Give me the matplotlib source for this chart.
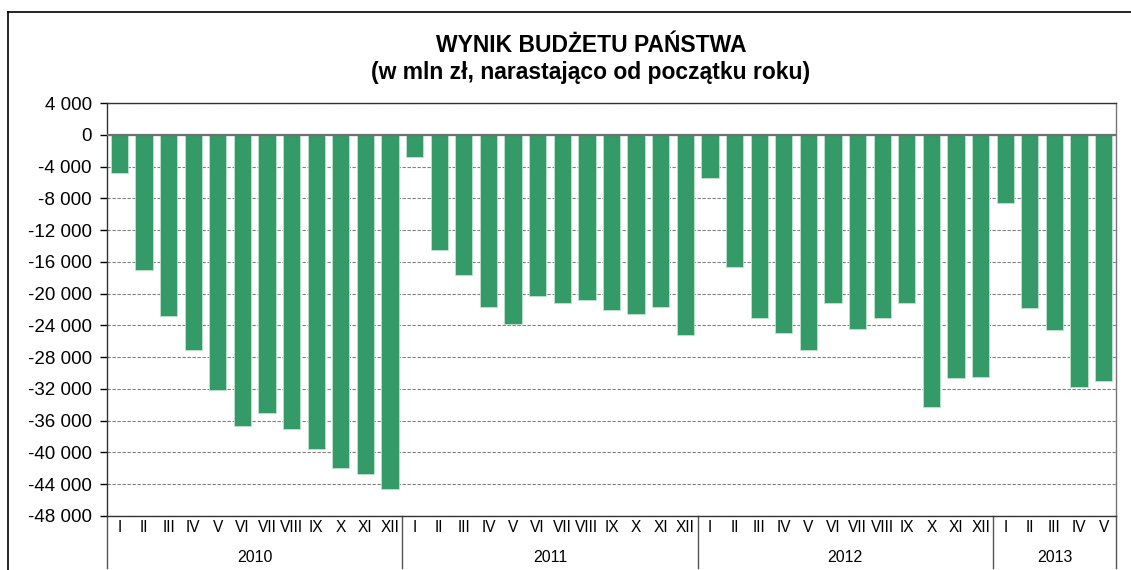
import matplotlib
matplotlib.use("Agg")
import matplotlib.pyplot as plt
from matplotlib.lines import Line2D
from matplotlib.ticker import FuncFormatter

plt.rcParams["font.family"] = ["Liberation Sans", "DejaVu Sans"]

# dane (mln zł, narastająco)
years = ["2010", "2011", "2012", "2013"]
months = ["I", "II", "III", "IV", "V", "VI", "VII", "VIII", "IX", "X", "XI", "XII"]
v2010 = [-4850, -17000, -22800, -27100, -32100, -36700, -35000, -37100, -39600, -42000, -42700, -44650]
v2011 = [-2850, -14550, -17600, -21700, -23850, -20350, -21200, -20800, -22000, -22600, -21700, -25200]
v2012 = [-5400, -16650, -23100, -24950, -27100, -21150, -24450, -23050, -21200, -34300, -30600, -30500]
v2013 = [-8550, -21800, -24550, -31800, -31050]

series = [v2010, v2011, v2012, v2013]
values = [v for s in series for v in s]
labels = [months[i] for s in series for i in range(len(s))]
x = list(range(len(values)))

W, H = 1131, 570
fig = plt.figure(figsize=(W / 100, H / 100), dpi=100)
ax = fig.add_axes([107 / W, 1 - 516 / H, (1116 - 107) / W, (516 - 103) / H])

ax.bar(x, values, width=0.7, color="#339a68", edgecolor="#bfe3cf", linewidth=0.6, zorder=3)

ax.set_xlim(-0.5, len(values) - 0.5)
ax.set_ylim(-48000, 4000)
ax.set_yticks(range(-48000, 4001, 4000))
ax.yaxis.set_major_formatter(FuncFormatter(lambda v, p: f"{int(v):,}".replace(",", " ")))
ax.tick_params(axis="y", labelsize=13.5, length=5, width=1, direction="out", pad=6, colors="black")
ax.grid(axis="y", linestyle=(0, (3, 1.5)), color="#808080", linewidth=0.8, zorder=0)
ax.axhline(0, color="#707070", linewidth=1.6, zorder=4)

ax.set_xticks([])
for sp in ["top", "right", "left", "bottom"]:
    ax.spines[sp].set_color("#333333")
    ax.spines[sp].set_linewidth(1.0)
ax.spines["right"].set_color("#777777")

trans = ax.get_xaxis_transform()
for xi, lab in zip(x, labels):
    ax.text(xi, -0.027, lab, transform=trans, ha="center", va="center", fontsize=11.2)

# separatory lat i podpisy lat
start = 0
bounds = [-0.5]
for yr, s in zip(years, series):
    mid = start + (len(s) - 1) / 2
    ax.text(mid, -0.1, yr, transform=trans, ha="center", va="center", fontsize=11.4)
    start += len(s)
    bounds.append(start - 0.5)
for b in bounds:
    ax.plot([b, b], [0, -0.125], transform=trans, color="#555555", linewidth=1.0, clip_on=False)

fig.text(591 / W, 1 - 45 / H, "WYNIK BUDŻETU PAŃSTWA", ha="center", va="center",
         fontsize=16.5, fontweight="bold")
fig.text(591 / W, 1 - 73 / H, "(w mln zł, narastająco od początku roku)", ha="center", va="center",
         fontsize=16.5, fontweight="bold")

# ramka wykresu
fig.add_artist(Line2D([8 / W, 1.0], [1 - 12 / H, 1 - 12 / H], color="black", linewidth=1.2))
fig.add_artist(Line2D([8 / W, 8 / W], [0, 1 - 12 / H], color="black", linewidth=1.2))

fig.savefig("out.png", dpi=100)
